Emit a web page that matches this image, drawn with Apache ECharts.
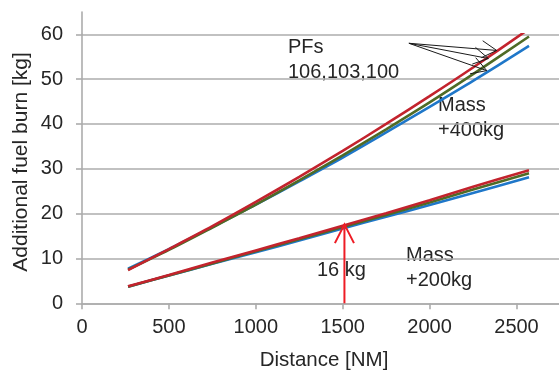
<!DOCTYPE html>
<html><head><meta charset="utf-8">
<script src="https://cdn.jsdelivr.net/npm/echarts@6/dist/echarts.min.js"></script>
<style>html,body{margin:0;padding:0;background:#fff}#c{width:559px;height:371px}</style>
</head><body><div id="c"></div>
<script>
// ---- data ----
const distances = [265, 500, 750, 1000, 1250, 1500, 1750, 2000, 2250, 2572];
const mass400_pf100 = [7.7, 12.1, 17.0, 22.0, 27.2, 32.5, 38.1, 43.8, 49.6, 57.4];
const mass400_pf103 = [7.5, 11.9, 16.9, 22.0, 27.4, 33.0, 38.8, 44.8, 51.1, 59.5];
const mass400_pf106 = [7.4, 12.1, 17.2, 22.6, 28.2, 34.0, 40.0, 46.2, 52.6, 61.2];
const mass200_pf100 = [3.7, 6.2, 8.8, 11.4, 14.0, 16.7, 19.3, 21.9, 24.6, 28.1];
const mass200_pf103 = [3.7, 6.2, 8.9, 11.6, 14.3, 17.0, 19.7, 22.5, 25.4, 29.0];
const mass200_pf106 = [3.8, 6.3, 9.1, 11.8, 14.5, 17.3, 20.1, 23.0, 26.0, 29.7];
const xTickLabels = [0, 500, 1000, 1500, 2000, 2500, 3000];
const yTickLabels = [0, 10, 20, 30, 40, 50, 60];
// annotation arrows in data coordinates [x0, y0, x1, y1]
const pfArrows = [[1881, 58.0, 2386, 56.4], [1881, 58.0, 2338, 54.6], [1881, 58.0, 2329, 51.9]];
const massArrow = [[1510, 0, 1510, 17.6]];

const FONT = '"Liberation Sans", Arial, sans-serif';
const TXT = '#262626';
const GRID = '#acacac';
const RED = '#C3232D', GREEN = '#4F6B26', BLUE = '#1F77C9';

function pairs(ys){ return distances.map((d,i)=>[d, ys[i]]); }

function arrowRender(headLen, headAngle, color, width){
  return function(params, api){
    const p0 = api.coord([api.value(0), api.value(1)]);
    const p1 = api.coord([api.value(2), api.value(3)]);
    const dx = p1[0]-p0[0], dy = p1[1]-p0[1];
    const L = Math.hypot(dx, dy) || 1;
    const bx = -dx/L, by = -dy/L;
    const a = headAngle*Math.PI/180;
    const wing = s => {
      const c = Math.cos(a), sn = Math.sin(a)*s;
      return [p1[0] + headLen*(bx*c - by*sn), p1[1] + headLen*(bx*sn + by*c)];
    };
    return {type:'group', children:[
      {type:'line', shape:{x1:p0[0], y1:p0[1], x2:p1[0], y2:p1[1]}, style:{stroke:color, lineWidth:width}},
      {type:'polyline', shape:{points:[wing(1), p1, wing(-1)]}, style:{stroke:color, lineWidth:width, fill:null}}
    ]};
  };
}

function lineSeries(name, ys, color){
  return {name, type:'line', data:pairs(ys), showSymbol:false, symbol:'none', smooth:0.3,
    lineStyle:{color, width:2.6}, itemStyle:{color}, silent:true, animation:false,
    xAxisIndex:0, yAxisIndex:0};
}

const xStep = xTickLabels[1]-xTickLabels[0];
const yStep = yTickLabels[1]-yTickLabels[0];
const plain = v => String(v);

const chart = echarts.init(document.getElementById('c'), null, {renderer:'canvas'});
chart.setOption({
  animation:false,
  backgroundColor:'#fff',
  grid:[
    {left:82, top:34.3, width:521.4, height:269, containLabel:false, outerBoundsMode:'none'},
    {left:82, top:12, width:521.4, height:22.3, containLabel:false, outerBoundsMode:'none'}
  ],
  xAxis:[
    {type:'value', gridIndex:0, min:xTickLabels[0], max:xTickLabels[xTickLabels.length-1], interval:xStep,
     axisLine:{show:true, lineStyle:{color:GRID, width:1.6}},
     axisTick:{show:true, length:6, lineStyle:{color:GRID, width:1.6}},
     axisLabel:{show:true, margin:14, fontSize:20, fontFamily:FONT, color:TXT, formatter:plain},
     splitLine:{show:false}},
    {type:'value', gridIndex:1, min:0, max:1, show:false}
  ],
  yAxis:[
    {type:'value', gridIndex:0, min:yTickLabels[0], max:yTickLabels[yTickLabels.length-1], interval:yStep,
     axisLine:{show:true, lineStyle:{color:GRID, width:1.6}},
     axisTick:{show:true, length:6, lineStyle:{color:GRID, width:1.6}},
     axisLabel:{show:true, margin:19, fontSize:20, fontFamily:FONT, color:TXT, formatter:plain},
     splitLine:{show:true, lineStyle:{color:GRID, width:1.6}}},
    {type:'value', gridIndex:1, min:0, max:1,
     axisLine:{show:true, lineStyle:{color:GRID, width:1.6}},
     axisTick:{show:false}, axisLabel:{show:false}, splitLine:{show:false}}
  ],
  series:[
    lineSeries('Mass +400kg PF100', mass400_pf100, BLUE),
    lineSeries('Mass +400kg PF103', mass400_pf103, GREEN),
    lineSeries('Mass +400kg PF106', mass400_pf106, RED),
    lineSeries('Mass +200kg PF100', mass200_pf100, BLUE),
    lineSeries('Mass +200kg PF103', mass200_pf103, GREEN),
    lineSeries('Mass +200kg PF106', mass200_pf106, RED),
    {type:'custom', xAxisIndex:0, yAxisIndex:0, data:pfArrows, encode:{x:[0,2], y:[1,3]},
     renderItem:arrowRender(17, 30, '#1a1a1a', 1), silent:true, z:5, clip:false},
    {type:'custom', xAxisIndex:0, yAxisIndex:0, data:massArrow, encode:{x:[0,2], y:[1,3]},
     renderItem:arrowRender(21, 27, '#ee1c25', 2), silent:true, z:6, clip:false}
  ],
  graphic:[
    {type:'text', x:21, y:162, rotation:Math.PI/2,
     style:{text:'Additional fuel burn [kg]', fontSize:21, fontFamily:FONT, fill:TXT, align:'center', verticalAlign:'middle'}},
    {type:'text', x:324, y:360,
     style:{text:'Distance [NM]', fontSize:20.5, fontFamily:FONT, fill:TXT, align:'center', verticalAlign:'middle'}},
    {type:'text', x:288, y:47.5, style:{text:'PFs', fontSize:20, fontFamily:FONT, fill:TXT, align:'left', verticalAlign:'middle'}},
    {type:'text', x:288, y:72.5, style:{text:'106,103,100', fontSize:20, fontFamily:FONT, fill:TXT, align:'left', verticalAlign:'middle'}},
    {type:'text', x:438, y:105.5, style:{text:'Mass', fontSize:20, fontFamily:FONT, fill:TXT, align:'left', verticalAlign:'middle'}},
    {type:'text', x:438, y:130.5, style:{text:'+400kg', fontSize:20, fontFamily:FONT, fill:TXT, align:'left', verticalAlign:'middle'}},
    {type:'text', x:406, y:255, style:{text:'Mass', fontSize:20, fontFamily:FONT, fill:TXT, align:'left', verticalAlign:'middle'}},
    {type:'text', x:406, y:280, style:{text:'+200kg', fontSize:20, fontFamily:FONT, fill:TXT, align:'left', verticalAlign:'middle'}},
    {type:'text', x:317, y:270.5, style:{text:'16 kg', fontSize:20, fontFamily:FONT, fill:TXT, align:'left', verticalAlign:'middle'}}
  ]
});
</script>
</body></html>
